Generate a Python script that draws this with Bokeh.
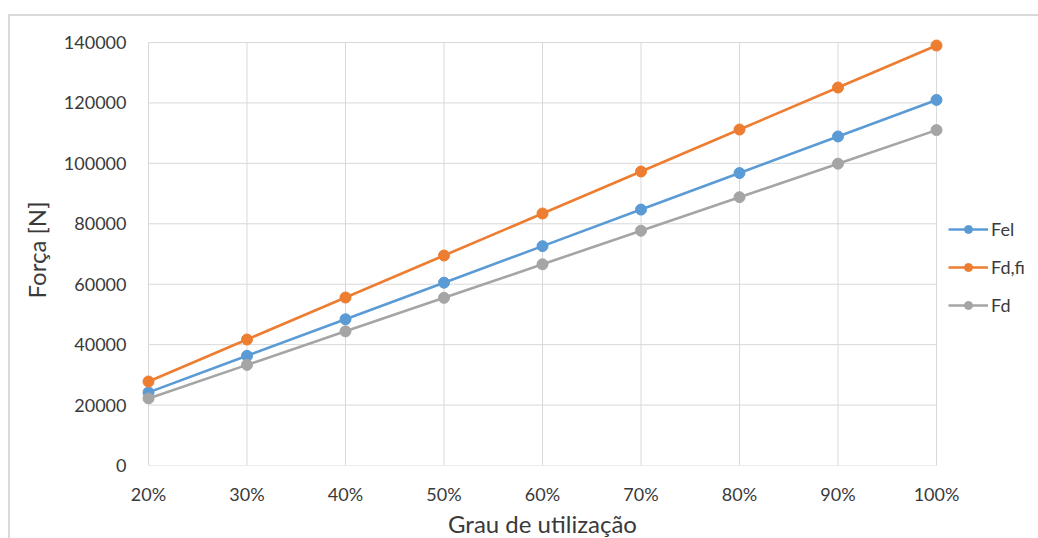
from bokeh.plotting import figure
from bokeh.models import ColumnDataSource, NumeralTickFormatter, FixedTicker, Legend, LegendItem, Range1d
from bokeh.embed import file_html
from bokeh.resources import INLINE

grau = [0.2, 0.3, 0.4, 0.5, 0.6, 0.7, 0.8, 0.9, 1.0]
fel = [24200, 36300, 48400, 60500, 72600, 84700, 96800, 108900, 121000]
fdfi = [27800, 41700, 55600, 69500, 83400, 97300, 111200, 125100, 139000]
fd = [22200, 33300, 44400, 55500, 66600, 77700, 88800, 99900, 111000]
y_ticks = [0, 20000, 40000, 60000, 80000, 100000, 120000, 140000]

FONT = "Lato"
GRID = "#d9d9d9"
TXT = "#3a3a3a"

xpad = 8 * 0.8 / 788
ypad = 8 * 140000 / 423

p = figure(frame_width=804, frame_height=431, output_backend="svg", toolbar_location=None,
           x_range=Range1d(grau[0] - xpad, grau[-1] + xpad),
           y_range=Range1d(y_ticks[0], y_ticks[-1] + ypad),
           min_border_left=130, min_border_right=92, min_border_top=18, min_border_bottom=66)
p.styles = {"border-left": "2px solid #d9d9d9", "border-top": "2px solid #d9d9d9",
            "margin-top": "14px", "margin-left": "8px"}
p.outline_line_color = None
p.xgrid.visible = False
p.ygrid.visible = False

# grid lines (also acting as axis lines) at the tick positions
p.segment(x0=grau, y0=[y_ticks[0]] * len(grau), x1=grau, y1=[y_ticks[-1]] * len(grau),
          line_color=GRID, line_width=1)
p.segment(x0=[grau[0]] * len(y_ticks), y0=y_ticks, x1=[grau[-1]] * len(y_ticks), y1=y_ticks,
          line_color=GRID, line_width=1)

series = [("Fel", fel, "#5B9BD5"), ("Fd,fi", fdfi, "#ED7D31"), ("Fd", fd, "#A5A5A5")]
items = []
for name, vals, col in series:
    src = ColumnDataSource(dict(x=grau, y=vals))
    l = p.line("x", "y", source=src, line_color=col, line_width=2.6)
    c = p.scatter("x", "y", source=src, size=11, fill_color=col, line_color=col)
    items.append(LegendItem(label=name, renderers=[l, c]))

legend = Legend(items=items, location=(4, 149), orientation="vertical",
                label_text_font=FONT, label_text_font_size="18px", label_text_color=TXT,
                glyph_width=40, glyph_height=20, label_height=20, spacing=16, label_standoff=3,
                padding=0, margin=0, border_line_color=None, background_fill_alpha=0)
p.add_layout(legend, "right")

p.xaxis.ticker = FixedTicker(ticks=grau)
p.xaxis.formatter = NumeralTickFormatter(format="0%")
p.yaxis.ticker = FixedTicker(ticks=y_ticks)
p.yaxis.formatter = NumeralTickFormatter(format="0")

for ax in (p.xaxis, p.yaxis):
    ax.axis_line_color = None
    ax.major_tick_line_color = None
    ax.minor_tick_line_color = None
    ax.major_tick_out = 0
    ax.major_tick_in = 0
    ax.major_label_text_font = FONT
    ax.major_label_text_font_size = "18px"
    ax.major_label_text_color = TXT
    ax.axis_label_text_font = FONT
    ax.axis_label_text_font_size = "24px"
    ax.axis_label_text_font_style = "normal"
    ax.axis_label_text_color = TXT

p.xaxis.major_label_standoff = 17
p.yaxis.major_label_standoff = 14
p.xaxis.axis_label = "Grau de utilização"
p.yaxis.axis_label = "Força [N]"
p.xaxis.axis_label_standoff = 1
p.yaxis.axis_label_standoff = 10

open("out.html", "w").write(file_html(p, INLINE))
